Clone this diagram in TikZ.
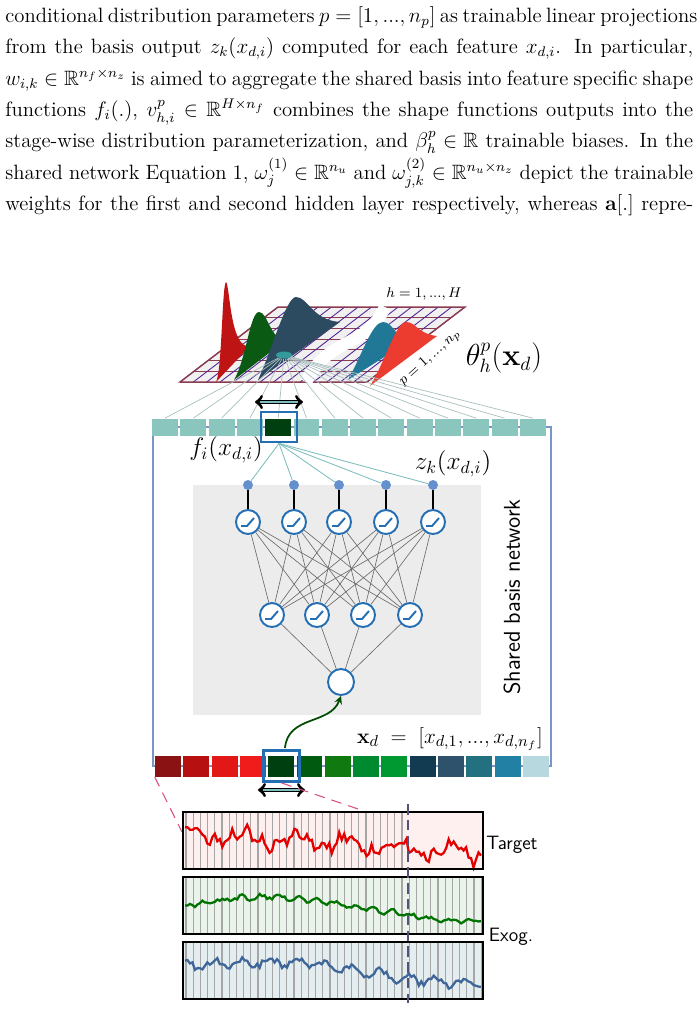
\documentclass[tikz,border=0pt]{standalone}
\usepackage{amsmath,amssymb}
\usepackage{xcolor}
\usetikzlibrary{shapes,calc,arrows}

\newcommand{\fullline}[1]{\makebox[13.76cm][s]{#1}}

\begin{document}
\begin{tikzpicture}[x=0.02cm,y=-0.02cm,
  cell/.style={draw=none,minimum width=0.52cm,minimum height=0.34cm,inner sep=0},
  neuron/.style={circle,draw=nnblue,line width=1.1pt,fill=white,minimum size=0.48cm,inner sep=0},
  dot/.style={circle,fill=dotblue,minimum size=0.2cm,inner sep=0},
  wire/.style={gray!80!black,line width=0.35pt},
  hlbox/.style={draw=nnblue,line width=1.6pt,minimum width=0.72cm,minimum height=0.6cm,inner sep=0}]

\definecolor{tealcell}{RGB}{138,198,190}
\definecolor{darkcell}{RGB}{0,64,16}
\definecolor{nnblue}{RGB}{36,110,180}
\definecolor{dotblue}{RGB}{100,145,205}
\definecolor{framecol}{RGB}{120,150,200}
\definecolor{gridred}{RGB}{140,60,80}
\definecolor{pinkdash}{RGB}{215,80,130}

\useasboundingbox (0,0) rectangle (699,1009);

\node [anchor=north west,inner sep=0,align=left,font={\fontsize{11.8}{17.9}\selectfont}] (para) at (5,6) {%
\fullline{conditional distribution parameters $p=[1,...,n_p]$ as trainable linear projections}\\
\fullline{from the basis output $z_k(x_{d,i})$ computed for each feature $x_{d,i}$. In particular,}\\
\fullline{$w_{i,k}\in\mathbb{R}^{n_f\times n_z}$ is aimed to aggregate the shared basis into feature specific shape}\\
\fullline{functions $f_i(.)$, $v^p_{h,i}\in\mathbb{R}^{H\times n_f}$ combines the shape functions outputs into the}\\
\fullline{stage-wise distribution parameterization, and $\beta^p_h\in\mathbb{R}$ trainable biases. In the}\\
\fullline{shared network Equation 1, $\omega^{(1)}_j\in\mathbb{R}^{n_u}$ and $\omega^{(2)}_{j,k}\in\mathbb{R}^{n_u\times n_z}$ depict the trainable}\\
\fullline{weights for the first and second hidden layer respectively, whereas $\mathbf{a}[.]$ repre-}};

\coordinate (BL) at (180,382);
\coordinate (BR) at (367,382);
\coordinate (TR) at (465,307);
\coordinate (TL) at (278,307);

\fill [gray!12] (BL) -- (BR) -- (TR) -- (TL) -- cycle;
\foreach \t in {0,1/7,2/7,3/7,4/7,5/7,6/7,1}
  \draw [gridred,line width=0.5pt] ($(BL)!\t!(TL)$) -- ($(BR)!\t!(TR)$);
\foreach \t in {0,1/14,2/14,3/14,4/14,5/14,6/14,7/14,8/14,9/14,10/14,11/14,12/14,13/14,1}
  \draw [gridred!60!blue,line width=0.5pt] ($(BL)!\t!(BR)$) -- ($(TL)!\t!(TR)$);
\draw [gridred,line width=0.8pt] (BL) -- (BR) -- (TR) -- (TL) -- cycle;

\draw [white,line width=7pt] (306,382) .. controls (330,335) and (365,350) .. (385,307);

\definecolor{pk1}{RGB}{190,20,20}
\definecolor{pk2}{RGB}{10,90,20}
\definecolor{pk3}{RGB}{44,74,96}
\definecolor{pk4}{RGB}{32,120,150}
\definecolor{pk5}{RGB}{236,60,48}
\fill [pk1] (216,382) .. controls (222,372) and (222,285) .. (226,282) .. controls (230,285) and (230,350) .. (250,346) -- cycle;
\fill [pk2] (234,380) .. controls (246,360) and (250,312) .. (259,312) .. controls (268,312) and (270,340) .. (286,340) -- cycle;
\fill [pk3] (258,380) .. controls (272,350) and (286,297) .. (296,297) .. controls (308,297) and (312,320) .. (340,322) -- cycle;
\fill [pk4] (348,380) .. controls (362,355) and (372,322) .. (383,322) .. controls (393,322) and (396,338) .. (408,342) -- cycle;
\fill [pk5] (370,386) .. controls (386,360) and (396,322) .. (406,322) .. controls (416,322) and (418,334) .. (437,336) -- cycle;

\node [ellipse,fill=teal!80,minimum width=0.32cm,minimum height=0.14cm,inner sep=0] (theta) at (284,355) {};

\node (hlab) at (424,294) {\fontsize{8}{9}\selectfont $h=1,...,H$};
\node [rotate=42] (plab) at (430,358) {\fontsize{8}{9}\selectfont $p=1,...,n_p$};
\node (thlab) at (504,358) {\fontsize{16}{18}\selectfont $\theta^p_h(\mathbf{x}_d)$};

\draw [framecol,line width=0.6pt] (153,427) rectangle (551,766);

\foreach \i in {0,...,13}
  \node [cell,fill=tealcell] (t\i) at ({165+28.3*\i},427) {};
\foreach \i in {0,...,13}
  \draw [teal!35!gray!50,line width=0.4pt] (theta) -- (t\i.north);
\node [cell,fill=darkcell] (t4) at (278.2,427) {};
\node [hlbox] (hl) at (279,427) {};

\draw [<->,>=to,line width=1.8pt] (255,402) -- (303,402);
\draw [teal!50,line width=0.7pt] (260,402) -- (298,402);

\node (flab) at (226,450) {\fontsize{14}{16}\selectfont $f_i(x_{d,i})$};
\node (zlab) at (453,464) {\fontsize{14}{16}\selectfont $z_k(x_{d,i})$};

\fill [gray!15] (193,485) rectangle (481,715);

\foreach \x [count=\k] in {248,294,339,386,433} {
  \node [dot] (d\k) at (\x,485) {};
  \node [neuron] (u\k) at (\x,522) {};
  \draw [black,line width=0.8pt] (d\k) -- (u\k);
  \draw [teal!50,line width=0.5pt] (hl.south) -- (d\k);
}
\foreach \x [count=\k] in {272,317,363,410}
  \node [neuron] (v\k) at (\x,615) {};
\node [neuron,minimum size=0.52cm] (out) at (341,682) {};

\foreach \a in {1,...,5}
  \foreach \b in {1,...,4}
    \draw [wire] (u\a) -- (v\b);
\foreach \b in {1,...,4}
  \draw [wire] (v\b) -- (out);

\foreach \n in {u1,u2,u3,u4,u5,v1,v2,v3,v4}
  \draw [nnblue,line width=1.1pt] ($(\n)+(-7,4)$) -- ($(\n)+(-1,4)$) -- ($(\n)+(6,-4)$);

\node [rotate=90,font=\sffamily\fontsize{13}{15}\selectfont] (sbn) at (512,597) {Shared basis network};

\node (xlab) at (450,739) {\fontsize{13}{15}\selectfont $\mathbf{x}_d\;=\;[x_{d,1},...,x_{d,n_f}]$};

\definecolor{c0}{RGB}{138,18,18}
\definecolor{c1}{RGB}{182,16,16}
\definecolor{c2}{RGB}{226,24,22}
\definecolor{c3}{RGB}{240,28,28}
\definecolor{c4}{RGB}{0,64,16}
\definecolor{c5}{RGB}{0,90,16}
\definecolor{c6}{RGB}{16,122,16}
\definecolor{c7}{RGB}{0,138,48}
\definecolor{c8}{RGB}{0,152,48}
\definecolor{c9}{RGB}{18,58,80}
\definecolor{c10}{RGB}{46,82,108}
\definecolor{c11}{RGB}{34,112,128}
\definecolor{c12}{RGB}{34,128,164}
\definecolor{c13}{RGB}{184,216,224}
\foreach \i in {0,...,13}
  \node [cell,minimum height=0.42cm,fill=c\i] (b\i) at ({168+28.3*\i},766) {};
\node [hlbox,minimum height=0.62cm] (hlb) at (281.5,766) {};

\coordinate (arrs) at (285,748);
\draw [->,>=stealth,green!30!black,line width=1pt] (arrs) .. controls (288,715) and (330,725) .. (out.south);

\draw [<->,>=to,line width=1.8pt] (258,790) -- (305,790);
\draw [teal!50,line width=0.7pt] (263,790) -- (300,790);

% series panels
\coordinate (p1a) at (182,832);
\coordinate (p1b) at (408,826);
\draw [pinkdash,dash pattern=on 6pt off 4pt,line width=0.6pt] (b0.south west) -- (p1a);
\draw [pinkdash,dash pattern=on 6pt off 4pt,line width=0.6pt] (hlb.south) -- (p1b);

\fill [red!6] (183,812) rectangle (483,869);
\fill [green!30!gray!12] (183,877) rectangle (483,934);
\fill [cyan!30!gray!18] (183,942) rectangle (483,999);
\foreach \x in {186,193.2,...,406}
  \draw [gray!70,line width=0.7pt] (\x,812) -- (\x,869);
\foreach \x in {186,193.2,...,482}
  \draw [gray!70,line width=0.7pt] (\x,877) -- (\x,934) (\x,942) -- (\x,999);

\pgfmathsetseed{11}
\draw [red!90!black,line width=1.3pt] plot [domain=185:481,samples=120] (\x,{834+0.065*(\x-185)+6*sin(7*\x)+4*sin(23*\x)+5*rand});
\draw [green!45!black,line width=1.3pt] plot [domain=185:481,samples=120] (\x,{906-9*sin(1.1*(\x-185))+0.12*max(0,\x-400)+2*sin(19*\x)+1.8*rand});
\draw [cyan!50!blue!70!black,line width=1.3pt] plot [domain=185:481,samples=120] (\x,{967-5*sin(1.1*(\x-185))+0.09*max(0,\x-330)+4*sin(13*\x)+3*rand});

\draw [black,line width=1.3pt] (183,812) rectangle (483,869);
\draw [black,line width=1.3pt] (183,877) rectangle (483,934);
\draw [black,line width=1.3pt] (183,942) rectangle (483,999);

\coordinate (cutt) at (408,804);
\coordinate (cutb) at (408,1003);
\draw [blue!20!gray!80!black,dash pattern=on 6pt off 3pt,line width=0.8pt] (cutt) -- (cutb);

\node [font=\sffamily\fontsize{11}{13}\selectfont] (tgt) at (512,845) {Target};
\node [font=\sffamily\fontsize{11}{13}\selectfont] (exo) at (511,937) {Exog.};

\end{tikzpicture}
\end{document}
